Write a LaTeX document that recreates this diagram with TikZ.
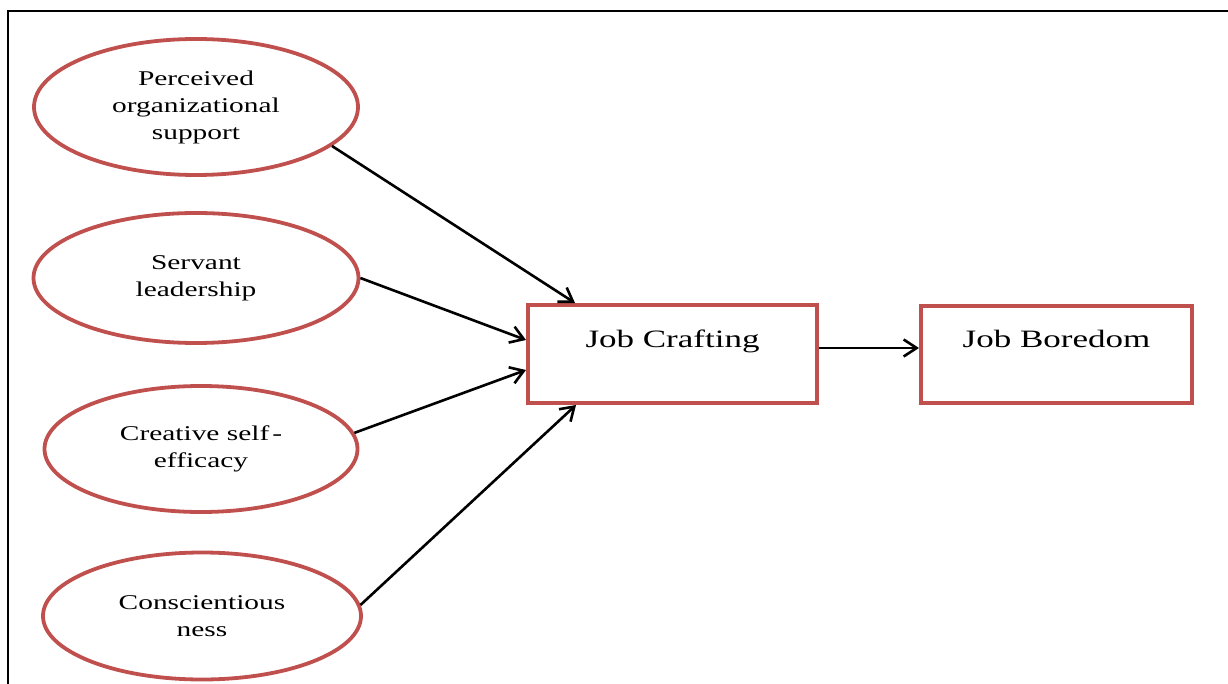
\documentclass[tikz,border=0pt]{standalone}
\usepackage{fontspec}
\setmainfont{Liberation Serif}[FakeStretch=1.4]
\usetikzlibrary{shapes.geometric,arrows.meta,calc}
\definecolor{boxred}{RGB}{192,80,77}
\begin{document}
\begin{tikzpicture}[x=1pt,y=-1pt,
  oval/.style={ellipse,draw=boxred,line width=3.8pt,inner sep=0pt,align=center,
     font=\fontsize{21}{27}\selectfont},
  rbox/.style={rectangle,draw=boxred,line width=4pt,inner sep=0pt},
  boxtxt/.style={anchor=base,inner sep=0pt,font=\fontsize{25}{30}\selectfont},
  link/.style={line width=2.6pt,-{Straight Barb[length=13pt,width=17pt,line width=2.6pt]}}]
\useasboundingbox (0,0) rectangle (1228,684);
\draw[line width=2.2pt] (8,684) -- (8,11) -- (1228,11);
\node[oval,minimum width=324,minimum height=136] (e1) at (196,107)
  {Perceived\\organizational\\support};
\node[oval,minimum width=325,minimum height=130] (e2) at (196,278)
  {Servant\\leadership};
\node[oval,minimum width=313,minimum height=126] (e3) at (201,449)
  {Creative self\kern3pt-\\efficacy};
\node[oval,minimum width=318,minimum height=127] (e4) at (202,616)
  {Conscientious\\ness};
\node[rbox,minimum width=289,minimum height=98] (jc) at (672.5,354) {};
\node[rbox,minimum width=271,minimum height=97] (jb) at (1056.5,354.5) {};
\node[boxtxt] (jct) at ($(jc.center)+(0,-6)$) {Job Crafting};
\node[boxtxt] (jbt) at ($(jb.center)+(0,-6.5)$) {Job Boredom};
\draw[link] (e1.-16) -- ($(jc.north west)+(49,0)$);
\draw[link] (e2.0) -- ($(jc.west)+(0,-14)$);
\draw[link] (e3.6.6) -- ($(jc.west)+(0,16)$);
\draw[link] (e4.4) -- ($(jc.south west)+(50,0)$);
\draw[link] ($(jc.east)+(0,-6)$) -- ($(jb.west)+(0,-6.5)$);
\end{tikzpicture}
\end{document}
